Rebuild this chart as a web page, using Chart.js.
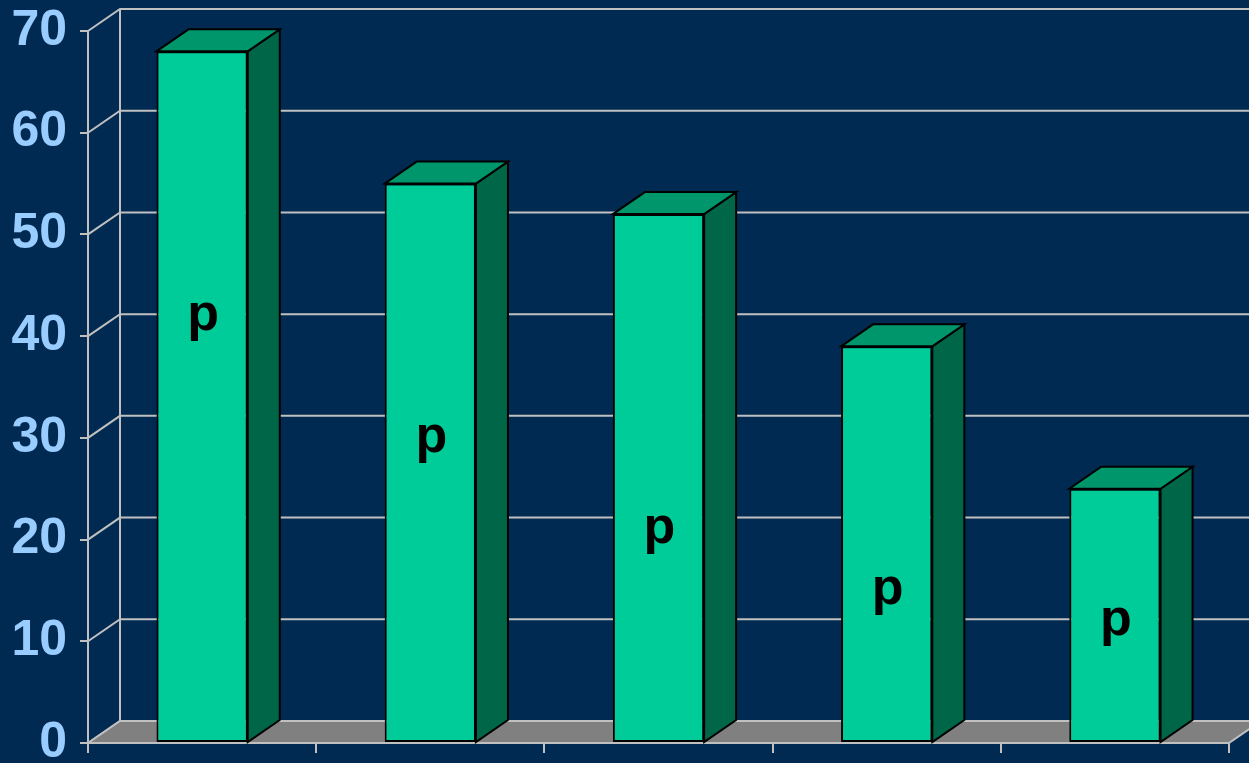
<!DOCTYPE html>
<html>
<head>
<meta charset="utf-8">
<script src="https://cdn.jsdelivr.net/npm/chart.js@4/dist/chart.umd.min.js"></script>
<style>
  html, body { margin: 0; padding: 0; background: #002A52; }
  #wrap { width: 1249px; height: 763px; position: relative; }
</style>
</head>
<body>
<div id="wrap"><canvas id="c" width="1249" height="763"></canvas></div>
<script>
// ---- data ----
const categories = ['1', '2', '3', '4', '5'];
const values = [68, 55, 52, 39, 25];
const labelTexts = ['p', 'p', 'p', 'p', 'p'];
const labelValues = [42, 30, 21, 15, 12];
const yMin = 0;
const yMax = 70;
const yStep = 10;

// ---- style ----
const BG = '#002A52';
const FRONT = '#00CC99';
const SIDE = '#006648';
const TOP = '#00966C';
const FLOOR = '#808080';
const GRID = '#C0C0C0';
const AXIS_TEXT = '#99CCFF';
const DX = 32, DY = 22;

const depthPlugin = {
  id: 'depth3d',
  beforeDraw(chart) {
    const { ctx, chartArea: a, scales } = chart;
    const ys = scales.y;
    ctx.save();
    ctx.fillStyle = BG;
    ctx.fillRect(0, 0, chart.width, chart.height);

    ctx.strokeStyle = GRID;
    ctx.lineWidth = 2;
    for (let v = yMin; v <= yMax; v += yStep) {
      const y = ys.getPixelForValue(v);
      ctx.beginPath();
      ctx.moveTo(a.left, y);
      ctx.lineTo(a.left + DX, y - DY);
      ctx.lineTo(chart.width + 5, y - DY);
      ctx.stroke();
    }
    ctx.beginPath();
    ctx.moveTo(a.left + DX, ys.getPixelForValue(yMax) - DY);
    ctx.lineTo(a.left + DX, a.bottom - DY);
    ctx.stroke();

    ctx.fillStyle = FLOOR;
    ctx.beginPath();
    ctx.moveTo(a.left, a.bottom);
    ctx.lineTo(a.left + DX, a.bottom - DY);
    ctx.lineTo(a.right + DX, a.bottom - DY);
    ctx.lineTo(a.right, a.bottom);
    ctx.closePath();
    ctx.fill();
    ctx.beginPath();
    ctx.moveTo(a.left, a.bottom);
    ctx.lineTo(a.left + DX, a.bottom - DY);
    ctx.lineTo(chart.width + 5, a.bottom - DY);
    ctx.stroke();
    ctx.beginPath();
    ctx.moveTo(a.right, a.bottom);
    ctx.lineTo(a.right + DX, a.bottom - DY);
    ctx.stroke();
    ctx.restore();
  },
  afterDatasetsDraw(chart) {
    const { ctx, scales } = chart;
    const ys = scales.y;
    const meta = chart.getDatasetMeta(0);
    ctx.save();
    ctx.lineWidth = 2;
    ctx.strokeStyle = '#000';
    ctx.lineJoin = 'miter';
    meta.data.forEach((bar, i) => {
      const p = bar.getProps(['x', 'y', 'base', 'width'], true);
      const l = p.x - p.width / 2, r = p.x + p.width / 2;
      const t = p.y, b = p.base;
      ctx.fillStyle = SIDE;
      ctx.beginPath();
      ctx.moveTo(r, t);
      ctx.lineTo(r + DX, t - DY);
      ctx.lineTo(r + DX, b - DY);
      ctx.lineTo(r, b);
      ctx.closePath();
      ctx.fill();
      ctx.stroke();
      ctx.fillStyle = TOP;
      ctx.beginPath();
      ctx.moveTo(l, t);
      ctx.lineTo(l + DX, t - DY);
      ctx.lineTo(r + DX, t - DY);
      ctx.lineTo(r, t);
      ctx.closePath();
      ctx.fill();
      ctx.stroke();
      ctx.fillStyle = '#000';
      ctx.font = 'bold 52px "Liberation Sans", Arial, sans-serif';
      ctx.textAlign = 'center';
      ctx.textBaseline = 'alphabetic';
      ctx.fillText(labelTexts[i], p.x + 1, ys.getPixelForValue(labelValues[i]) + 14);
    });
    ctx.restore();
  }
};

new Chart(document.getElementById('c'), {
  type: 'bar',
  data: {
    labels: categories,
    datasets: [{
      data: values,
      backgroundColor: FRONT,
      borderColor: '#000',
      borderWidth: 2,
      borderSkipped: false,
      barPercentage: 0.4,
      categoryPercentage: 1.0
    }]
  },
  options: {
    responsive: false,
    animation: false,
    devicePixelRatio: 1,
    layout: { padding: { top: 31, right: 20, left: 0, bottom: 0 } },
    plugins: { legend: { display: false }, tooltip: { enabled: false } },
    scales: {
      x: {
        type: 'category',
        offset: true,
        grid: { offset: true, drawOnChartArea: false, drawTicks: true, tickLength: 10, color: GRID, lineWidth: 2 },
        border: { display: true, color: GRID, width: 2 },
        ticks: { callback: () => '', font: { size: 1 } },
        afterFit(s) { s.height = 20; s.paddingLeft = 0; s.paddingRight = 0; }
      },
      y: {
        min: yMin,
        max: yMax,
        grid: { drawOnChartArea: false, drawTicks: true, tickLength: 8, color: GRID, lineWidth: 2 },
        border: { display: true, color: GRID, width: 2 },
        ticks: {
          stepSize: yStep,
          color: AXIS_TEXT,
          padding: 13,
          font: { family: '"Liberation Sans", Arial, sans-serif', size: 50, weight: 'bold', lineHeight: 1 }
        },
        afterFit(s) { s.width = 88; s.paddingTop = 0; s.paddingBottom = 0; }
      }
    }
  },
  plugins: [depthPlugin]
});
</script>
</body>
</html>
